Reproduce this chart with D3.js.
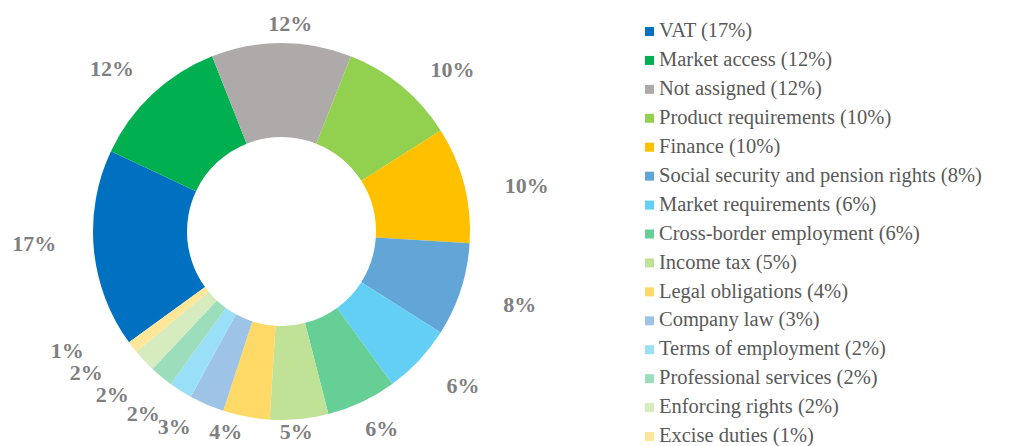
<!DOCTYPE html>
<html>
<head>
<meta charset="utf-8">
<script src="https://cdn.jsdelivr.net/npm/d3@7"></script>
<style>
  html, body { margin: 0; padding: 0; background: #ffffff; }
  svg { display: block; }
</style>
</head>
<body>
<svg id="chart" width="1009" height="446"></svg>
<script>
// ---- data ----
const categories = [
  "VAT", "Market access", "Not assigned", "Product requirements", "Finance",
  "Social security and pension rights", "Market requirements", "Cross-border employment",
  "Income tax", "Legal obligations", "Company law", "Terms of employment",
  "Professional services", "Enforcing rights", "Excise duties"
];
const shares = [17, 12, 12, 10, 10, 8, 6, 6, 5, 4, 3, 2, 2, 2, 1];
const colors = [
  "#0070C0", "#00B050", "#AEAAAA", "#92D050", "#FFC000",
  "#62A6D8", "#64CFF5", "#66CF96", "#BFE297", "#FFD966",
  "#9DC3E6", "#9ADFF8", "#9CDEBC", "#D6ECBE", "#FFE699"
];

// ---- layout ----
const W = 1009, H = 446;
const cx = 281.5, cy = 231.5;
const outerR = 188.5, innerR = 94.5;
const firstSliceDeg = 234;          // angle of first slice (clockwise from 12 o'clock)
const labelFont = "Liberation Serif, Times New Roman, serif";

const svg = d3.select("#chart");

const pie = d3.pie()
  .sort(null)
  .value(d => d.v)
  .startAngle(firstSliceDeg * Math.PI / 180)
  .endAngle((firstSliceDeg + 360) * Math.PI / 180);

const data = categories.map((c, i) => ({ name: c, v: shares[i], color: colors[i] }));
const arcs = pie(data);

const arc = d3.arc().innerRadius(innerR).outerRadius(outerR);

const g = svg.append("g").attr("transform", `translate(${cx},${cy})`);

g.selectAll("path.slice")
  .data(arcs)
  .join("path")
  .attr("class", "slice")
  .attr("d", arc)
  .attr("fill", d => d.data.color)
  .attr("stroke", "none");

// ---- outside-end data labels ----
const rx = outerR + 58, ry = outerR + 19;
const labelRot = 2 * Math.PI / 180;
const maxY = H - cy - 14;
function labelPos(t) {
  const k = 1 + 0.045 * Math.abs(Math.sin(2 * t));
  let x = rx * Math.sin(t) * k;
  let y = -ry * Math.cos(t) * k;
  if (y > maxY) y = maxY;
  return [x, y];
}

const labels = g.selectAll("text.lbl")
  .data(arcs)
  .join("text")
  .attr("class", "lbl")
  .attr("text-anchor", "middle")
  .attr("dy", "0.33em")
  .attr("font-family", labelFont)
  .attr("font-weight", "bold")
  .attr("font-size", 22)
  .attr("fill", "#7F7F7F")
  .text(d => d.data.v + "%");

// measure and relax overlapping labels along the ring
const nodes = [];
labels.each(function(d) {
  nodes.push({ t: (d.startAngle + d.endAngle) / 2 + labelRot, w: this.getComputedTextLength(), el: this });
});
const step = 0.05 * Math.PI / 180, boxH = 22;
for (let it = 0; it < 1000; it++) {
  let moved = false;
  for (let i = 0; i < nodes.length - 1; i++) {
    const a = nodes[i], b = nodes[i + 1];
    const pa = labelPos(a.t), pb = labelPos(b.t);
    if (Math.abs(pa[0] - pb[0]) < (a.w + b.w) / 2 - 2 && Math.abs(pa[1] - pb[1]) < boxH) {
      a.t -= step; b.t += step; moved = true;
    }
  }
  if (!moved) break;
}
nodes.forEach(n => {
  const p = labelPos(n.t);
  d3.select(n.el).attr("x", p[0]).attr("y", p[1]);
});

// ---- legend ----
const legendX = 645, legendY0 = 31, rowH = 28.93;
const legendScale = d3.scaleLinear().domain([0, 1]).range([legendY0, legendY0 + rowH]);
const lg = svg.append("g");
const rows = lg.selectAll("g.row")
  .data(data)
  .join("g")
  .attr("class", "row")
  .attr("transform", (d, i) => `translate(${legendX},${legendScale(i)})`);

rows.append("rect")
  .attr("x", 0)
  .attr("y", -4)
  .attr("width", 9)
  .attr("height", 9)
  .attr("fill", d => d.color);

rows.append("text")
  .attr("x", 14)
  .attr("y", 0)
  .attr("dy", "0.3em")
  .attr("font-family", labelFont)
  .attr("font-size", 20.5)
  .attr("fill", "#595959")
  .text(d => `${d.name} (${d.v}%)`);
</script>
</body>
</html>
